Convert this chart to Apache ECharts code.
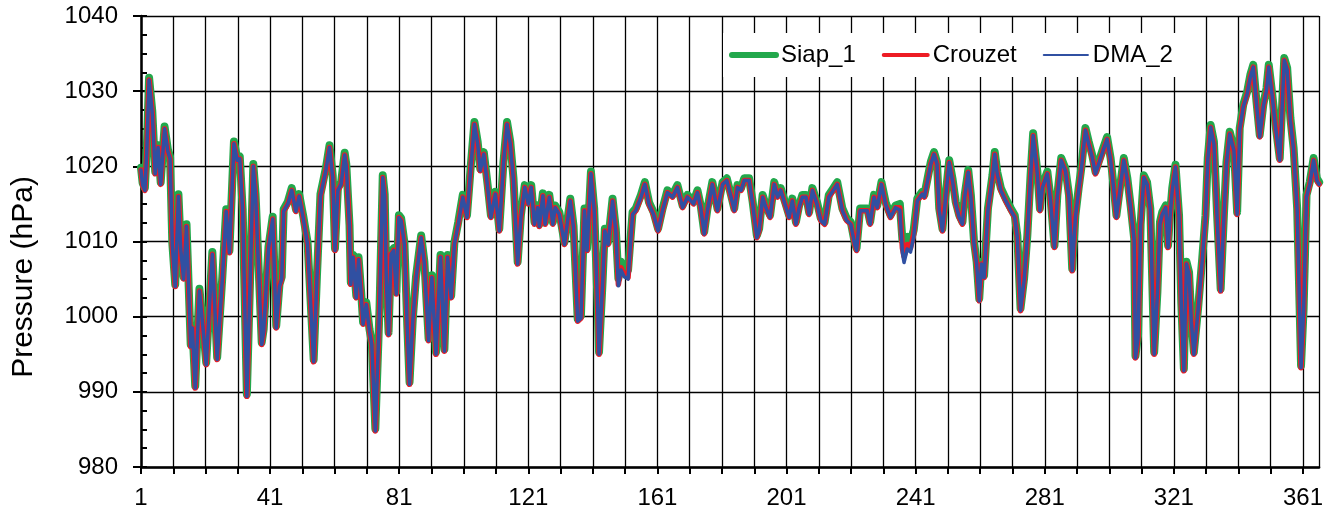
<!DOCTYPE html>
<html>
<head>
<meta charset="utf-8">
<title>Pressure</title>
<script src="https://cdn.jsdelivr.net/npm/echarts@6/dist/echarts.min.js"></script>
<style>
  html, body { margin: 0; padding: 0; background: #fff; }
  #chart { width: 1326px; height: 513px; }
</style>
</head>
<body>
<div id="chart"></div>
<script>
// time in days since the first day of the record (day 1 -> 0)
const t = [
  0, 0.5, 1.2, 1.8, 2.5, 3, 3.5, 4.4, 5.3, 6.1, 7.3, 8.3, 9, 9.7, 10.6, 11.6, 12.3, 13.2, 14.1, 15.4,
  15.9, 16.8, 18.1, 19.2, 20.2, 22.1, 23.6, 25.2, 26.4, 27.4, 28.8, 29.8, 30.6, 31.5, 32.8, 34.8, 35.5, 37.4, 38, 39.5,
  40.8, 41.9, 42.9, 43.6, 44.2, 45.5, 46.7, 48, 49, 50.3, 51.6, 53.5, 54.5, 55.6, 57.3, 58.4, 59.4, 60.1,
  61, 62, 63.1, 63.6, 64.6, 65, 65.7, 66.7, 67.4, 68.2, 68.8, 69.8, 70.8, 71.5, 72.6, 73.9, 74.9, 75.5, 76, 76.7,
  77.5, 78.3, 79.1, 79.9, 80.6, 81.6, 82.5, 83.2, 84.2, 85.2, 86.8, 87.8, 89.1, 90.1, 91.4, 92.8, 94, 95, 96.1, 97.1,
  98.3, 99.7, 101, 102.2, 103.3, 104.3, 105.1, 106.2, 107.4, 108.4, 109.8, 111, 112.3, 113.4, 114.4, 115.4, 116.7, 117.7, 118.9, 120,
  120.9, 121.9, 122.9, 123.4, 124.5, 125.2, 126.5, 127.6, 128.3, 129.6, 131.2, 133, 134, 135.3, 136.3, 137.4, 138.2, 139.4, 140.4, 141.5,
  141.9, 143, 143.7, 144.7, 146.1, 147.1, 147.9, 148.7, 149.7, 150.9, 152.3, 153.3, 154.9, 156.1, 157.4, 158.8, 160.2, 161.6, 163.1, 164.7,
  166.2, 167.8, 169.3, 171.2, 172.4, 173.4, 174.5, 175.5, 177, 178.6, 180.2, 181.5,
  182.8, 183.8, 184.8, 185.9, 186.9, 188.4, 189.5, 190.8, 191.5, 192.6, 193.6, 194.9, 196.2, 197.2, 198.2, 199.5, 200.8, 201.8, 202.9, 203.9,
  204.9, 206, 207, 208, 209.4, 210.6, 211.8, 213.1, 214.5, 215.7, 217.3, 218.6, 219.9, 221.1, 221.7, 222.8, 224, 225, 225.9, 227.1,
  228.1, 229.4, 230.7, 232.2, 233.8, 235.1, 235.9, 236.4, 237.4, 238.4, 239.4, 240.5, 242,
  242.7, 243.7, 244.7, 245.7, 246.6, 247.3, 248.3, 249.3, 250.4, 251.4, 252.4, 253.5, 254.5, 255.2, 256.3, 257.1, 258.1, 258.9, 259.7, 260.4,
  261.2, 262.4, 263.8, 264.5, 265.3, 266.4, 267.9, 269.5, 270.7, 271.5, 272.5, 273.6, 274.6, 275.6, 276.4, 277.7, 278.5, 279.3, 280.8, 281.8,
  283, 283.9, 285.1, 286.4, 287.5, 288.5, 289.5, 290.5, 291.3, 292.6, 293.6, 294.7, 295.7, 297.1, 298.1, 299.3, 300.4, 301.4, 302.2, 303.4,
  304.5,
  305.6, 306.6, 307.7, 308.1, 308.9, 309.7, 310.7, 311.7, 312.7, 313.9, 314.9, 315.7, 316.4, 317.5, 318.2, 318.8, 319.5, 320.5, 321.6, 322.3,
  323.1, 323.9, 324.7, 325.4, 326.2, 327.5, 328.8, 329.8, 330.5, 331.4, 332.4, 333.4, 334.5, 335.5, 336.3, 337.3, 338.6, 339.6, 340.4, 341.5,
  342.7, 343.7, 344.6, 345.6, 346.6, 347.7, 348.7, 349.4, 350.4, 351.5, 352.8, 353.5, 354.2, 355.1, 356.1, 357.1, 358.2, 359.4, 360.2, 361.1,
  362.1, 363.3, 364.3, 365
];

const siap1 = [
  1019.8, 1017.8, 1017.1, 1022.3, 1031.8, 1031.8, 1027.3, 1019.3, 1022.8, 1017.9, 1025.3, 1022.3, 1021.3, 1009.8, 1004.3, 1016.3, 1009.3, 1005.3, 1012.3, 996.3,
  998.8, 990.8, 1003.7, 998.8, 993.9, 1008.6, 994.6, 1005.3, 1014.3, 1008.8, 1023.3, 1021.1, 1021.3, 1014.3, 989.7, 1020.3, 1016.3, 996.6, 998.3, 1009.3,
  1013.3, 998.8, 1004.3, 1005.3, 1014.3, 1015.3, 1017.1, 1014.3, 1016.3, 1013.3, 1009.9, 994.3, 1005.3, 1016.3, 1019.8, 1022.8, 1018.8, 1009.1,
  1017.1, 1017.9, 1021.8, 1020.3, 1012.2, 1004.6, 1008.2, 1002.8, 1007.9, 1003.3, 999.3, 1001.9, 998.3, 996.6, 985.1, 1001.1, 1018.8, 1016.3, 1005.3, 997.9,
  1008.6, 1009.1, 1003.3, 1013.5, 1013.1, 1009.9, 998.8, 991.3, 999.7, 1005.3, 1010.8, 1007.3, 997.1, 1005.5, 995.3, 1008.2, 995.7, 1008.2, 1002.8, 1009.9,
  1012.6, 1016.2, 1013.5, 1020.2, 1025.9, 1023.3, 1019.7, 1021.9, 1017.5, 1013.5, 1016.6, 1011.7, 1020.6, 1025.9, 1023.3, 1018.4, 1007.3, 1013.5, 1017.5, 1015.3,
  1017.5, 1012.6, 1014.8, 1012.3, 1016.4, 1012.6, 1016.2, 1012.6, 1014.8, 1013.9, 1009.9, 1015.7, 1012.1, 999.7, 1000.1, 1014.4, 1009.1, 1019.3, 1014.4, 1001.3,
  995.3, 1004.6, 1011.7, 1009.9, 1015.7, 1011.7, 1005.1, 1007.3, 1006.6, 1006.2, 1013.9, 1014.4, 1016.2, 1017.9, 1015.2, 1013.9, 1011.7, 1014.4, 1016.8, 1016.2,
  1017.5, 1014.8, 1016.2, 1015.3, 1016.8, 1014.8, 1011.3, 1014.4, 1017.9, 1014.4, 1017.9, 1018.4,
  1016.2, 1014.4, 1017.5, 1017.1, 1018.4, 1018.4, 1015.3, 1010.8, 1011.7, 1016.2, 1014.8, 1013.5, 1017.9, 1016.2, 1017.1, 1015.3, 1013.5, 1015.7, 1012.6, 1014.8,
  1016.2, 1016.2, 1013.9, 1017.1, 1015.3, 1013.1, 1012.6, 1016.2, 1017.1, 1017.9, 1014.4, 1013.1, 1012.6, 1009.9, 1009.1, 1014.4, 1014.4, 1014.4, 1012.6, 1016.2,
  1014.8, 1017.9, 1015.2, 1013.5, 1014.8, 1015.0, 1010.2, 1010.0, 1010.6, 1010.0, 1011.5, 1015.7, 1016.6,
  1016.2, 1018.4, 1020.6, 1021.9, 1020.6, 1014.4, 1011.7, 1016.2, 1020.8, 1018.4, 1015.3, 1013.5, 1012.6, 1016.2, 1019.5, 1016.2, 1009.9, 1007.3, 1002.4, 1007.3,
  1005.5, 1014.4, 1018.8, 1021.9, 1019.2, 1017.1, 1015.7, 1014.4, 1013.5, 1010.8, 1001.1, 1005.1, 1010.8, 1018.8, 1024.4, 1019.3, 1014.4, 1017.5, 1019.3, 1015.7,
  1009.5, 1016.2, 1021.1, 1019.7, 1016.2, 1006.4, 1013.5, 1017.1, 1019.7, 1025.1, 1023.3, 1021.5, 1019.3, 1021.1, 1022.4, 1023.9, 1021.1, 1017.1, 1013.5, 1017.5,
  1021.1,
  1018.4, 1014.8, 1010.4, 994.8, 997.5, 1012.3, 1018.8, 1017.9, 1014.4, 995.3, 1003.3, 1012.6, 1013.9, 1014.8, 1009.5, 1013.5, 1017.1, 1020.2, 1013.5, 1001.9,
  993.1, 1007.3, 1005.9, 999.7, 995.3, 1001.1, 1007.8, 1013.5, 1021.1, 1025.5, 1023.3, 1013.5, 1003.7, 1013.5, 1020.6, 1024.6, 1022.4, 1013.9, 1025.1, 1028.2,
  1029.9, 1032.2, 1033.5, 1028.6, 1024.2, 1028.2, 1030.4, 1033.5, 1029.9, 1025.5, 1021.1, 1027.7, 1034.4, 1033.1, 1026.4, 1022.4, 1014.4, 993.5, 1001.1, 1016.2,
  1017.9, 1021.1, 1018.4, 1017.9
];

const crouzet = [
  1019.5, 1017.5, 1016.8, 1022, 1031.5, 1031.5, 1027, 1019, 1022.5, 1017.6, 1025, 1022, 1021, 1009.5, 1004, 1016, 1009, 1005, 1012, 996,
  998.5, 990.5, 1003.4, 998.5, 993.6, 1008.3, 994.3, 1005, 1014, 1008.5, 1023, 1020.8, 1021, 1014, 989.4, 1020, 1016, 996.3, 998, 1009,
  1013, 998.5, 1004, 1005, 1014, 1015, 1016.8, 1014, 1016, 1013, 1009.6, 994, 1005, 1016, 1019.5, 1022.5, 1018.5, 1008.8,
  1016.8, 1017.6, 1021.5, 1020, 1011.9, 1004.3, 1007.9, 1002.5, 1007.6, 1003, 999, 1001.6, 998, 996.3, 984.8, 1000.8, 1018.5, 1016, 1005, 997.6,
  1008.3, 1008.8, 1003, 1013.2, 1012.8, 1009.6, 998.5, 991, 999.4, 1005, 1010.5, 1007, 996.8, 1005.2, 995, 1007.9, 995.4, 1007.9, 1002.5, 1009.6,
  1012.3, 1015.9, 1013.2, 1019.9, 1025.6, 1023, 1019.4, 1021.6, 1017.2, 1013.2, 1016.3, 1011.4, 1020.3, 1025.6, 1023, 1018.1, 1007, 1013.2, 1017.2, 1015,
  1017.2, 1012.3, 1014.5, 1012, 1016.1, 1012.3, 1015.9, 1012.3, 1014.5, 1013.6, 1009.6, 1015.4, 1011.8, 999.4, 999.8, 1014.1, 1008.8, 1019, 1014.1, 1001,
  995, 1004.3, 1011.4, 1009.6, 1015.4, 1011.4, 1004.3, 1006.5, 1005.6, 1005.2, 1013.6, 1014.1, 1015.9, 1017.6, 1014.9, 1013.6, 1011.4, 1014.1, 1016.5, 1015.9,
  1017.2, 1014.5, 1015.9, 1015, 1016.5, 1014.5, 1011, 1014.1, 1017.6, 1014.1, 1017.6, 1018.1,
  1015.9, 1014.1, 1017.2, 1016.8, 1018.1, 1018.1, 1015, 1010.5, 1011.4, 1015.9, 1014.5, 1013.2, 1017.6, 1015.9, 1016.8, 1015, 1013.2, 1015.4, 1012.3, 1014.5,
  1015.9, 1015.9, 1013.6, 1016.8, 1015, 1012.8, 1012.3, 1015.9, 1016.8, 1017.6, 1014.1, 1012.8, 1012.3, 1009.6, 1008.8, 1014.1, 1014.1, 1014.1, 1012.3, 1015.9,
  1014.5, 1017.6, 1014.9, 1013.2, 1014.5, 1014.5, 1009.1, 1008, 1009.6, 1009.1, 1011, 1015.4, 1016.3,
  1015.9, 1018.1, 1020.3, 1021.6, 1020.3, 1014.1, 1011.4, 1015.9, 1020.5, 1018.1, 1015, 1013.2, 1012.3, 1015.9, 1019.2, 1015.9, 1009.6, 1007, 1002.1, 1007,
  1005.2, 1014.1, 1018.5, 1021.6, 1018.9, 1016.8, 1015.4, 1014.1, 1013.2, 1010.5, 1000.8, 1004.8, 1010.5, 1018.5, 1024.1, 1019, 1014.1, 1017.2, 1019, 1015.4,
  1009.2, 1015.9, 1020.8, 1019.4, 1015.9, 1006.1, 1013.2, 1016.8, 1019.4, 1024.8, 1023, 1021.2, 1019, 1020.8, 1022.1, 1023.6, 1020.8, 1016.8, 1013.2, 1017.2,
  1020.8,
  1018.1, 1014.5, 1010.1, 994.5, 997.2, 1012, 1018.5, 1017.6, 1014.1, 995, 1003, 1012.3, 1013.6, 1014.5, 1009.2, 1013.2, 1016.8, 1019.9, 1013.2, 1001.6,
  992.8, 1007, 1005.6, 999.4, 995, 1000.8, 1007.5, 1013.2, 1020.8, 1025.2, 1023, 1013.2, 1003.4, 1013.2, 1020.3, 1024.3, 1022.1, 1013.6, 1024.8, 1027.9,
  1029.6, 1031.9, 1033.2, 1028.3, 1023.9, 1027.9, 1030.1, 1033.2, 1029.6, 1025.2, 1020.8, 1027.4, 1034.1, 1032.8, 1026.1, 1022.1, 1014.1, 993.2, 1000.8, 1015.9,
  1017.6, 1020.8, 1018.1, 1017.6
];

const dma2 = [
  1019.5, 1017.5, 1016.8, 1022, 1031.5, 1031.5, 1027, 1019, 1022.5, 1017.6, 1025, 1022, 1021, 1009.5, 1004, 1016, 1009, 1005, 1012, 996,
  998.5, 990.5, 1003.4, 998.5, 993.6, 1008.3, 994.3, 1005, 1014, 1008.5, 1023, 1020.8, 1021, 1014, 989.4, 1020, 1016, 996.3, 998, 1009,
  1013, 998.5, 1004, 1005, 1014, 1015, 1016.8, 1014, 1016, 1013, 1009.6, 994, 1005, 1016, 1019.5, 1022.5, 1018.5, 1008.8,
  1016.8, 1017.6, 1021.5, 1020, 1011.9, 1004.3, 1007.9, 1002.5, 1007.6, 1003, 999, 1001.6, 998, 996.3, 984.8, 1000.8, 1018.5, 1016, 1005, 997.6,
  1008.3, 1008.8, 1003, 1013.2, 1012.8, 1009.6, 998.5, 991, 999.4, 1005, 1010.5, 1007, 996.8, 1005.2, 995, 1007.9, 995.4, 1007.9, 1002.5, 1009.6,
  1012.3, 1015.9, 1013.2, 1019.9, 1025.6, 1023, 1019.4, 1021.6, 1017.2, 1013.2, 1016.3, 1011.4, 1020.3, 1025.6, 1023, 1018.1, 1007, 1013.2, 1017.2, 1015,
  1017.2, 1012.3, 1014.5, 1012, 1016.1, 1012.3, 1015.9, 1012.3, 1014.5, 1013.6, 1009.6, 1015.4, 1011.8, 999.4, 999.8, 1014.1, 1008.8, 1019, 1014.1, 1001,
  995, 1004.3, 1011.4, 1009.6, 1015.4, 1011.4, 1004.1, 1006.2, 1005.3, 1005.0, 1013.6, 1014.1, 1015.9, 1017.6, 1014.9, 1013.6, 1011.4, 1014.1, 1016.5, 1015.9,
  1017.2, 1014.5, 1015.9, 1015, 1016.5, 1014.5, 1011, 1014.1, 1017.6, 1014.1, 1017.6, 1018.1,
  1015.9, 1014.1, 1017.2, 1016.8, 1018.1, 1018.1, 1015, 1010.5, 1011.4, 1015.9, 1014.5, 1013.2, 1017.6, 1015.9, 1016.8, 1015, 1013.2, 1015.4, 1012.3, 1014.5,
  1015.9, 1015.9, 1013.6, 1016.8, 1015, 1012.8, 1012.3, 1015.9, 1016.8, 1017.6, 1014.1, 1012.8, 1012.3, 1009.6, 1008.8, 1014.1, 1014.1, 1014.1, 1012.3, 1015.9,
  1014.5, 1017.6, 1014.9, 1013.2, 1014.5, 1014.2, 1008.5, 1007.2, 1009.0, 1008.6, 1010.6, 1015.4, 1016.3,
  1015.9, 1018.1, 1020.3, 1021.6, 1020.3, 1014.1, 1011.4, 1015.9, 1020.5, 1018.1, 1015, 1013.2, 1012.3, 1015.9, 1019.2, 1015.9, 1009.6, 1007, 1002.1, 1007,
  1005.2, 1014.1, 1018.5, 1021.6, 1018.9, 1016.8, 1015.4, 1014.1, 1013.2, 1010.5, 1000.8, 1004.8, 1010.5, 1018.5, 1024.1, 1019, 1014.1, 1017.2, 1019, 1015.4,
  1009.2, 1015.9, 1020.8, 1019.4, 1015.9, 1006.1, 1013.2, 1016.8, 1019.4, 1024.8, 1023, 1021.2, 1019, 1020.8, 1022.1, 1023.6, 1020.8, 1016.8, 1013.2, 1017.2,
  1020.8,
  1018.1, 1014.5, 1010.1, 994.5, 997.2, 1012, 1018.5, 1017.6, 1014.1, 995, 1003, 1012.3, 1013.6, 1014.5, 1009.2, 1013.2, 1016.8, 1019.9, 1013.2, 1001.6,
  992.8, 1007, 1005.6, 999.4, 995, 1000.8, 1007.5, 1013.2, 1020.8, 1025.2, 1023, 1013.2, 1003.4, 1013.2, 1020.3, 1024.3, 1022.1, 1013.6, 1024.8, 1027.9,
  1029.6, 1031.9, 1033.2, 1028.3, 1023.9, 1027.9, 1030.1, 1033.2, 1029.6, 1025.2, 1020.8, 1027.4, 1034.1, 1032.8, 1026.1, 1022.1, 1014.1, 993.2, 1000.8, 1015.9,
  1017.6, 1020.8, 1018.1, 1017.6
];

const font = '"Liberation Sans", Arial, sans-serif';

function pairs(vals) {
  return t.map(function (x, i) { return [x, vals[i]]; });
}

const chart = echarts.init(document.getElementById('chart'));
chart.setOption({
  animation: false,
  backgroundColor: '#fff',
  grid: { left: 141, right: 4, top: 16, bottom: 46 },
  legend: {
    left: 723,
    top: 33,
    backgroundColor: '#fff',
    padding: [10, 6, 10, 6],
    itemWidth: 44,
    itemHeight: 14,
    itemGap: 26,
    itemStyle: { opacity: 0 },
    textStyle: { fontSize: 24, fontFamily: font, color: '#000' },
    data: [
      { name: 'Siap_1', lineStyle: { width: 6, cap: 'round' } },
      { name: 'Crouzet', lineStyle: { width: 4, cap: 'round' } },
      { name: 'DMA_2', lineStyle: { width: 2.2, cap: 'round' } }
    ]
  },
  xAxis: {
    type: 'value',
    min: 0,
    max: 365,
    interval: 10,
    axisLine: { lineStyle: { color: '#000', width: 2.5 } },
    axisTick: { length: 7, lineStyle: { color: '#000', width: 2 } },
    splitLine: { show: true, lineStyle: { color: '#000', width: 1.3 } },
    axisLabel: {
      margin: 19,
      fontSize: 24,
      fontFamily: font,
      color: '#000',
      showMaxLabel: false,
      formatter: function (v) { return v % 40 === 0 ? String(v + 1) : ''; }
    }
  },
  yAxis: [
    {
      type: 'value',
      min: 980,
      max: 1040,
      interval: 10,
      position: 'left',
      axisLine: { show: true, lineStyle: { color: '#000', width: 2.5 } },
      axisTick: { show: true, length: 8, lineStyle: { color: '#000', width: 2 } },
      splitLine: { show: true, lineStyle: { color: '#000', width: 1.3 } },
      axisLabel: {
        margin: 23,
        fontSize: 24,
        fontFamily: font,
        color: '#000',
        formatter: function (v) { return String(v); }
      }
    },
    {
      // inner tick marks every 2.5 hPa
      type: 'value',
      min: 980,
      max: 1040,
      interval: 2.5,
      position: 'left',
      offset: 0,
      axisLine: { show: false },
      axisTick: { show: true, inside: true, length: 6, lineStyle: { color: '#000', width: 2 } },
      splitLine: { show: false },
      axisLabel: { show: false }
    }
  ],
  graphic: [
    {
      type: 'text',
      x: 24,
      y: 277,
      rotation: Math.PI / 2,
      style: {
        text: 'Pressure (hPa)',
        font: '30px ' + font,
        fill: '#000',
        textAlign: 'center',
        textVerticalAlign: 'middle'
      }
    }
  ],
  series: [
    {
      name: 'Siap_1',
      type: 'line',
      data: pairs(siap1),
      showSymbol: false,
      symbol: 'none',
      color: '#22a84c',
      lineStyle: { width: 8, color: '#22a84c', join: 'round', cap: 'round' }
    },
    {
      name: 'Crouzet',
      type: 'line',
      data: pairs(crouzet),
      showSymbol: false,
      symbol: 'none',
      color: '#ed1c24',
      lineStyle: { width: 5.5, color: '#ed1c24', join: 'round', cap: 'round' }
    },
    {
      name: 'DMA_2',
      type: 'line',
      data: pairs(dma2),
      showSymbol: false,
      symbol: 'none',
      color: '#3050a2',
      lineStyle: { width: 3.5, color: '#3050a2', join: 'round', cap: 'round' }
    }
  ]
});
</script>
</body>
</html>
